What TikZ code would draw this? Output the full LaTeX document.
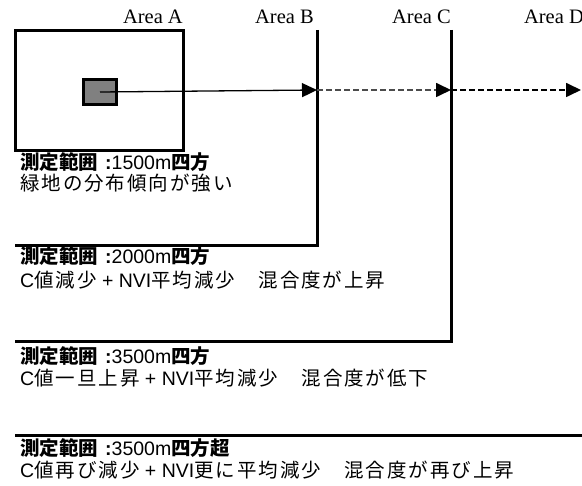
\documentclass[tikz,border=0pt]{standalone}
\usepackage{fontspec}
\setmainfont{Liberation Serif}
\newfontfamily\jp{Noto Sans CJK JP}
\newfontfamily\jpr[LetterSpace=10]{Noto Sans CJK JP}
\newfontfamily\lat{Liberation Sans}
\usetikzlibrary{arrows.meta}
\newcommand\hdrow[2]{{\jp\bfseries 測定範囲}\hspace{7pt}{\lat\bfseries :}{\lat #1}{\jp\bfseries #2}}
\begin{document}
\begin{tikzpicture}[x=1pt,y=-1pt,
  frame/.style={line width=3pt,line join=miter},
  arealabel/.style={anchor=east,inner sep=0pt,font=\fontsize{20.5}{24}\selectfont},
  txt/.style={anchor=west,inner sep=0pt,font=\fontsize{19.5}{23}\selectfont},
  tip/.style={-{Triangle[length=15pt,width=14pt,color=black]}},
  solidarrow/.style={tip,line width=1.3pt},
  dasharrow/.style={tip,line width=1.7pt,dash pattern=on 6pt off 3pt}]
\useasboundingbox (0,0) rectangle (582,486);
% Area A box
\draw[frame] (15,31) rectangle (183,151);
\node[draw,line width=3pt,fill=black!50,minimum width=33pt,minimum height=25pt,inner sep=0pt] (sq) at (100,92) {};
% Area B, C, D outlines
\draw[frame] (317,30) -- (317,246) -- (15,246);
\draw[frame] (451,30) -- (451,342) -- (15,342);
\draw[frame] (15,436) -- (582,436);
% labels
\node[arealabel] (la) at (183,17) {Area A};
\node[arealabel] (lb) at (314,17) {Area B};
\node[arealabel] (lc) at (451,17) {Area C};
\node[arealabel] (ld) at (584,17) {Area D};
% arrows
\coordinate (b) at (317,90);
\coordinate (c) at (451,90);
\coordinate (d) at (581,90);
\draw[solidarrow] (sq.center) -- (b);
\draw[dasharrow,draw=black!70] (b) -- (c);
\draw[dasharrow] (c) -- (d);
% texts
\node[txt] (ta1) at (20,162) {\hdrow{1500m}{四方}};
\node[txt] (ta2) at (20,183) {\jpr 緑地の分布傾向が強い};
\node[txt] (tb1) at (20,256) {\hdrow{2000m}{四方}};
\node[txt] (tb2) at (20,280) {{\lat C}{\jpr 値減少}{\lat\ + NVI}{\jpr 平均減少　混合度が上昇}};
\node[txt] (tc1) at (20,356) {\hdrow{3500m}{四方}};
\node[txt] (tc2) at (20,378) {{\lat C}{\jpr 値一旦上昇}{\lat\ + NVI}{\jpr 平均減少　混合度が低下}};
\node[txt] (td1) at (20,448) {\hdrow{3500m}{四方超}};
\node[txt] (td2) at (20,470) {{\lat C}{\jpr 値再び減少}{\lat\ + NVI}{\jpr 更に平均減少　混合度が再び上昇}};
\end{tikzpicture}
\end{document}
